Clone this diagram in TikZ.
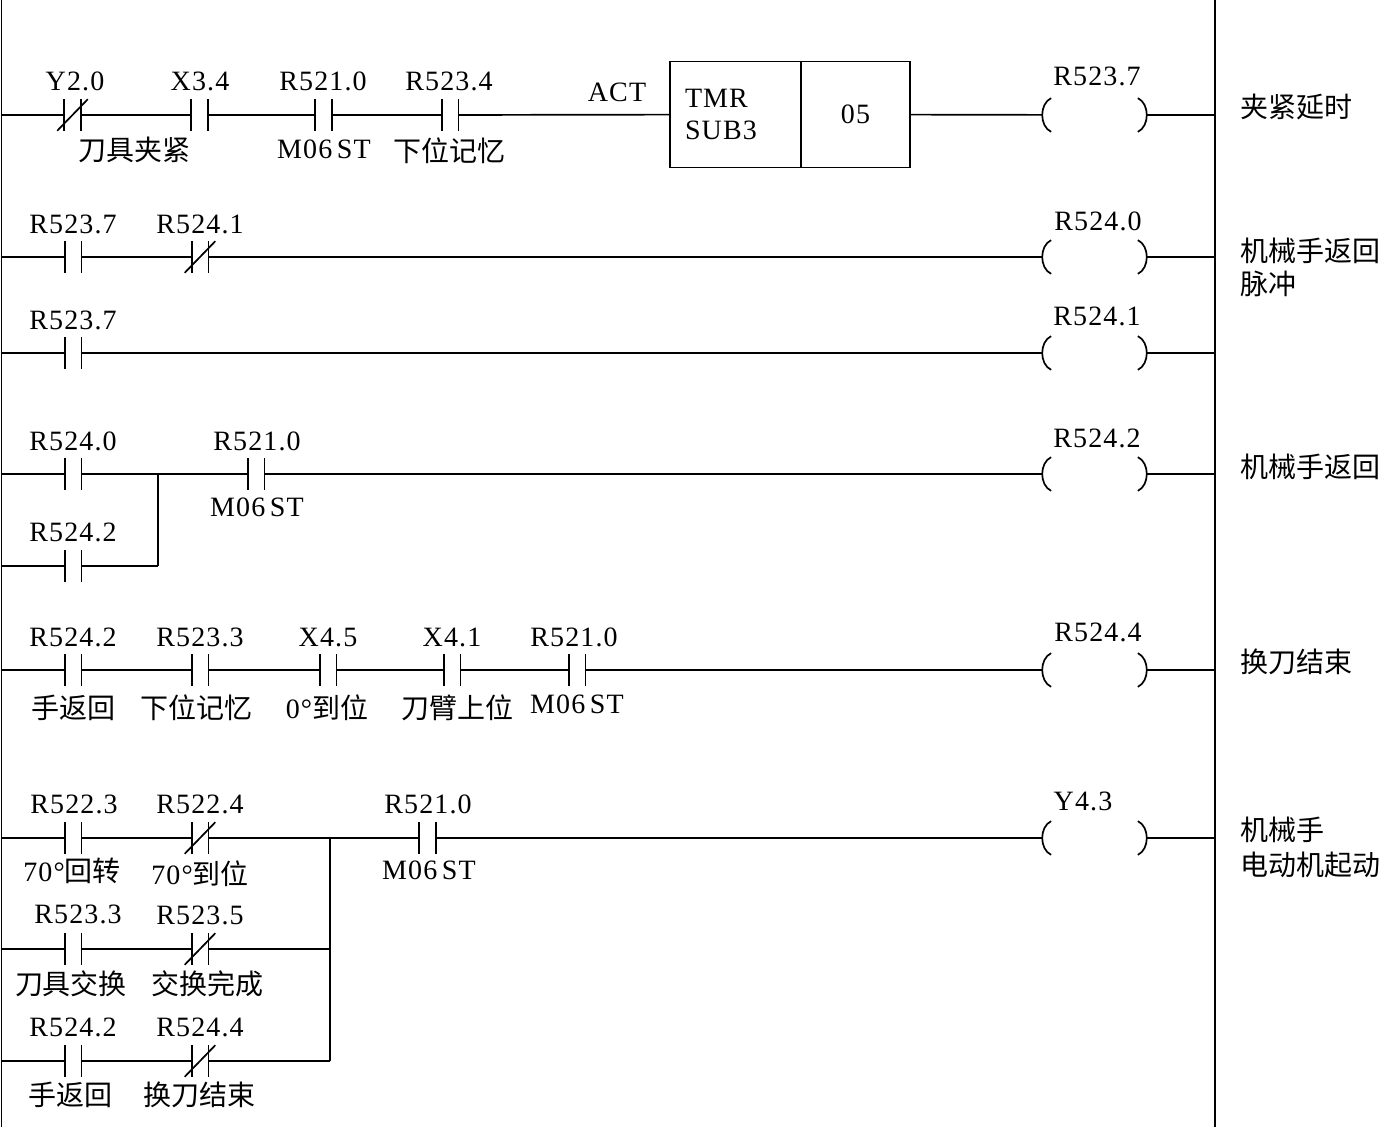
\documentclass[tikz,border=0pt]{standalone}
\usepackage{fontspec}
\setmainfont{Liberation Serif}[LetterSpace=4]
\newfontfamily\cjk{Noto Sans CJK SC}
\usetikzlibrary{calc}
\tikzstyle{no}=[rectangle,inner sep=0pt,minimum width=7.5pt,minimum height=15pt,
  append after command={(\tikzlastnode.north west) edge (\tikzlastnode.south west)
    (\tikzlastnode.north east) edge (\tikzlastnode.south east)}]
\tikzstyle{nc}=[style=no,
  append after command={([xshift=-3.5pt]\tikzlastnode.south west) edge ([xshift=3.5pt]\tikzlastnode.north east)}]
\tikzstyle{coil}=[rectangle,inner sep=0pt,minimum width=51.5pt,minimum height=16pt,
  append after command={([xshift=4.5pt]\tikzlastnode.north west) edge[bend right=65] ([xshift=4.5pt]\tikzlastnode.south west)
    ([xshift=-4.5pt]\tikzlastnode.north east) edge[bend left=65] ([xshift=-4.5pt]\tikzlastnode.south east)}]
\tikzstyle{tmr}=[rectangle,draw=black,inner sep=0pt,minimum height=53pt]
\tikzstyle{lbl}=[inner sep=0pt]
\tikzstyle{cn}=[inner sep=0pt,font=\fontsize{14}{17}\selectfont\cjk]
\tikzstyle{none}=[]

\begin{document}
\begin{tikzpicture}[x=0.5pt,y=-0.5pt,line width=0.85pt,font=\fontsize{14}{16}\selectfont]
            \useasboundingbox (0,0) rectangle (1387,1127);
            % rails
            \node [style=none] (0) at (1.5, 0) {};
            \node [style=none] (1) at (1.5, 1127) {};
            \node [style=none] (2) at (1215, 0) {};
            \node [style=none] (3) at (1215, 1127) {};
            \draw (0.center) to (1.center);
            \draw (2.center) to (3.center);
            % rung 1
            \node [style=none] (10) at (1.5, 115) {};
            \node [style=nc] (11) at (72.5, 115) {};
            \node [style=no] (12) at (199.5, 115) {};
            \node [style=no] (13) at (323.5, 115) {};
            \node [style=no] (14) at (450, 115) {};
            \node [style=tmr,minimum width=65.5pt,text width=50.5pt,inner xsep=7.5pt,align=left] (15) at (735.5, 114.5) {TMR\\SUB3};
            \node [style=tmr,minimum width=54.5pt] (16) at (855.5, 114.5) {05};
            \node [style=coil] (17) at (1094.5, 115) {};
            \node [style=none] (18) at (1215, 115) {};
            \node [style=lbl] at (75, 81) {Y2.0};
            \node [style=lbl] at (200, 81) {X3.4};
            \node [style=lbl] at (323, 81) {R521.0};
            \node [style=lbl] at (449, 81) {R523.4};
            \node [style=cn] at (134, 150) {刀具夹紧};
            \node [style=lbl] at (324, 149) {M06\,ST};
            \node [style=cn] at (449, 151) {下位记忆};
            \node [style=lbl] at (617, 92) {ACT};
            \node [style=lbl] at (1097, 76) {R523.7};
            \node [style=cn,anchor=west] at (1240, 107) {夹紧延时};
            \draw (10.center) to (11);
            \draw (11) to (12);
            \draw (12) to (13);
            \draw (13) to (14);
            \draw (14) to (15);
            \draw (16) to (17);
            \draw (17) to (18.center);
            % rung 2
            \node [style=none] (20) at (1.5, 257) {};
            \node [style=no] (21) at (73, 257) {};
            \node [style=nc] (22) at (200, 257) {};
            \node [style=coil] (27) at (1094.5, 257) {};
            \node [style=none] (28) at (1215, 257) {};
            \node [style=lbl] at (73, 224) {R523.7};
            \node [style=lbl] at (200, 224) {R524.1};
            \node [style=lbl] at (1098, 221) {R524.0};
            \node [style=cn,anchor=west] at (1240, 251) {机械手返回};
            \node [style=cn,anchor=west] at (1240, 284) {脉冲};
            \draw (20.center) to (21);
            \draw (21) to (22);
            \draw (22) to (27);
            \draw (27) to (28.center);
            % rung 3
            \node [style=none] (30) at (1.5, 353) {};
            \node [style=no] (31) at (73, 353) {};
            \node [style=coil] (37) at (1094.5, 353) {};
            \node [style=none] (38) at (1215, 353) {};
            \node [style=lbl] at (73, 320) {R523.7};
            \node [style=lbl] at (1097, 316) {R524.1};
            \draw (30.center) to (31);
            \draw (31) to (37);
            \draw (37) to (38.center);
            % rung 4
            \node [style=none] (40) at (1.5, 474) {};
            \node [style=no] (41) at (73, 474) {};
            \node [style=none] (43) at (158, 474) {};
            \node [style=none] (45) at (1.5, 566) {};
            \node [style=no] (42) at (73, 566) {};
            \node [style=none] (44) at (158, 566) {};
            \node [style=no] (46) at (256, 474) {};
            \node [style=coil] (47) at (1094.5, 474) {};
            \node [style=none] (48) at (1215, 474) {};
            \node [style=lbl] at (73, 441) {R524.0};
            \node [style=lbl] at (73, 532) {R524.2};
            \node [style=lbl] at (257, 441) {R521.0};
            \node [style=lbl] at (257, 507) {M06\,ST};
            \node [style=lbl] at (1097, 438) {R524.2};
            \node [style=cn,anchor=west] at (1240, 467) {机械手返回};
            \draw (40.center) to (41);
            \draw (41) to (46);
            \draw (45.center) to (42);
            \draw (42) to (44.center);
            \draw (44.center) to (43.center);
            \draw (46) to (47);
            \draw (47) to (48.center);
            % rung 5
            \node [style=none] (50) at (1.5, 670) {};
            \node [style=no] (51) at (73, 670) {};
            \node [style=no] (52) at (200, 670) {};
            \node [style=no] (53) at (328, 670) {};
            \node [style=no] (54) at (452, 670) {};
            \node [style=no] (55) at (577, 670) {};
            \node [style=coil] (57) at (1094.5, 670) {};
            \node [style=none] (58) at (1215, 670) {};
            \node [style=lbl] at (73, 637) {R524.2};
            \node [style=lbl] at (200, 637) {R523.3};
            \node [style=lbl] at (328, 637) {X4.5};
            \node [style=lbl] at (452, 637) {X4.1};
            \node [style=lbl] at (574, 637) {R521.0};
            \node [style=cn] at (74, 708) {手返回};
            \node [style=cn] at (196, 708) {下位记忆};
            \node [style=lbl] at (327, 708) {0°{\cjk 到位}};
            \node [style=cn] at (457, 708) {刀臂上位};
            \node [style=lbl] at (577, 704) {M06\,ST};
            \node [style=lbl] at (1098, 632) {R524.4};
            \node [style=cn,anchor=west] at (1240, 662) {换刀结束};
            \draw (50.center) to (51);
            \draw (51) to (52);
            \draw (52) to (53);
            \draw (53) to (54);
            \draw (54) to (55);
            \draw (55) to (57);
            \draw (57) to (58.center);
            % rung 6
            \node [style=none] (60) at (1.5, 838) {};
            \node [style=no] (61) at (73, 838) {};
            \node [style=nc] (62) at (200, 838) {};
            \node [style=none] (63) at (330, 838) {};
            \node [style=no] (64) at (427.5, 838) {};
            \node [style=coil] (67) at (1094.5, 838) {};
            \node [style=none] (68) at (1215, 838) {};
            \node [style=none] (70) at (1.5, 949) {};
            \node [style=no] (71) at (73, 949) {};
            \node [style=nc] (72) at (200, 949) {};
            \node [style=none] (73) at (330, 949) {};
            \node [style=none] (80) at (1.5, 1061) {};
            \node [style=no] (81) at (73, 1061) {};
            \node [style=nc] (82) at (200, 1061) {};
            \node [style=none] (83) at (330, 1061) {};
            \node [style=lbl] at (74, 804) {R522.3};
            \node [style=lbl] at (200, 804) {R522.4};
            \node [style=lbl] at (428, 804) {R521.0};
            \node [style=lbl] at (72, 871) {70°{\cjk 回转}};
            \node [style=lbl] at (200, 874) {70°{\cjk 到位}};
            \node [style=lbl] at (429, 870) {M06\,ST};
            \node [style=lbl] at (78, 914) {R523.3};
            \node [style=lbl] at (200, 915) {R523.5};
            \node [style=cn] at (71, 984) {刀具交换};
            \node [style=cn] at (207, 984) {交换完成};
            \node [style=lbl] at (73, 1027) {R524.2};
            \node [style=lbl] at (200, 1027) {R524.4};
            \node [style=cn] at (70, 1095) {手返回};
            \node [style=cn] at (199, 1095) {换刀结束};
            \node [style=lbl] at (1083, 801) {Y4.3};
            \node [style=cn,anchor=west] at (1240, 830) {机械手};
            \node [style=cn,anchor=west] at (1240, 865) {电动机起动};
            \draw (60.center) to (61);
            \draw (61) to (62);
            \draw (62) to (64);
            \draw (64) to (67);
            \draw (67) to (68.center);
            \draw (70.center) to (71);
            \draw (71) to (72);
            \draw (72) to (73.center);
            \draw (80.center) to (81);
            \draw (81) to (82);
            \draw (82) to (83.center);
            \draw (63.center) to (83.center);
    \end{tikzpicture}
\end{document}
